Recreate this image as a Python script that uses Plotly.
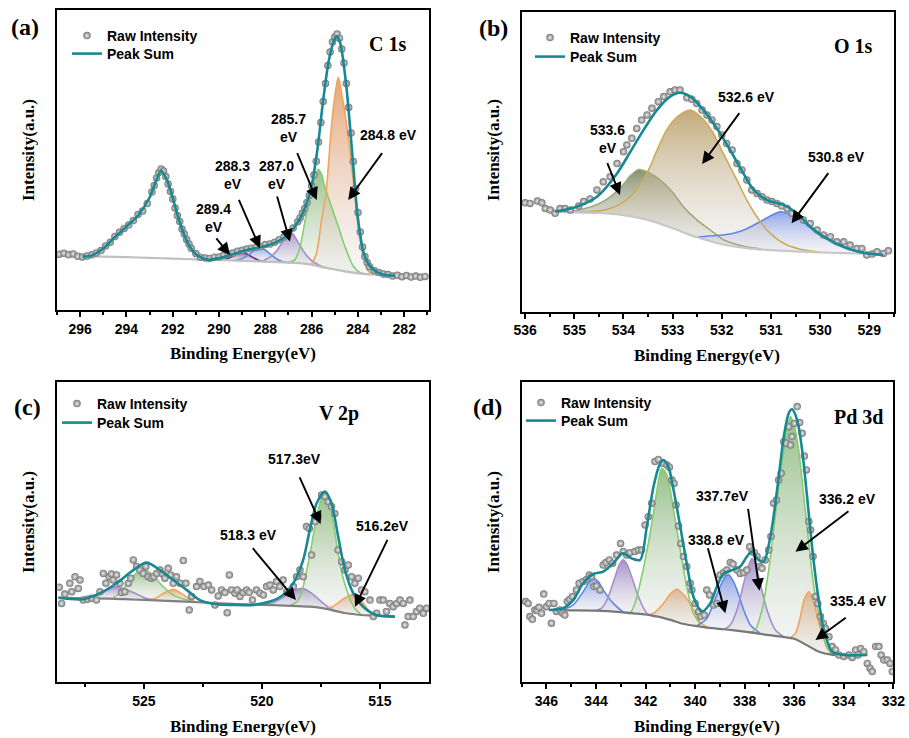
import plotly.graph_objects as go

# ================= (a) C 1s =================
a_raw_x = [296.9, 296.7, 296.5, 296.3, 296.1, 295.9, 295.7, 295.5, 295.3, 295.1, 294.9, 294.7, 294.5, 294.3, 294.1,
           293.9, 293.7, 293.5, 293.3, 293.1, 292.9, 292.8, 292.7, 292.6, 292.5, 292.4, 292.3, 292.2, 292.1, 292.0,
           291.9, 291.8, 291.7, 291.6, 291.5, 291.4, 291.3, 291.2, 291.0, 290.8, 290.6, 290.4, 290.2, 290.0, 289.8,
           289.6, 289.4, 289.2, 289.0, 288.8, 288.6, 288.4, 288.2, 288.0, 287.8, 287.6, 287.4, 287.2, 287.0, 286.8,
           286.6, 286.5, 286.4, 286.3, 286.2, 286.1, 286.0, 285.9, 285.8, 285.7, 285.6, 285.5, 285.4, 285.3, 285.2,
           285.1, 285.0, 284.9, 284.8, 284.7, 284.6, 284.5, 284.4, 284.3, 284.2, 284.1, 284.0, 283.9, 283.8, 283.7,
           283.6, 283.5, 283.3, 283.1, 282.9, 282.7, 282.5, 282.3, 282.1, 281.9, 281.7, 281.5, 281.3, 281.1]
a_raw_y = [18.6, 18.9, 18.4, 18.7, 17.9, 17.7, 18.0, 18.4, 19.0, 19.8, 21.3, 22.6, 24.5, 25.9, 27.2,
           28.3, 29.8, 31.8, 33.0, 35.5, 39.3, 41.5, 44.0, 45.8, 47.0, 46.3, 44.5, 42.0, 39.5, 37.0,
           34.0, 31.5, 29.5, 27.0, 25.3, 23.5, 22.0, 20.6, 18.8, 17.6, 17.3, 17.2, 17.6, 17.7, 18.2,
           18.7, 19.0, 19.6, 19.9, 20.3, 20.6, 20.9, 21.2, 21.8, 22.0, 22.6, 23.4, 24.3, 25.6, 27.3,
           29.4, 30.7, 32.3, 33.8, 35.8, 38.2, 41.3, 45.0, 49.6, 56.0, 62.5, 69.5, 75.5, 81.5, 86.0,
           89.3, 91.0, 92.0, 90.6, 87.0, 82.3, 75.5, 67.5, 59.0, 49.5, 40.5, 32.5, 26.0, 21.0, 17.8,
           15.8, 14.4, 13.2, 12.5, 12.0, 11.8, 11.3, 11.6, 11.1, 11.5, 11.0, 11.3, 10.9, 11.2]
a_sum_x = [295.9, 295.5, 295.0, 294.5, 294.0, 293.5, 293.0, 292.75, 292.5, 292.25, 292.0, 291.75, 291.5, 291.25,
           291.0, 290.5, 290.0, 289.5, 289.0, 288.5, 288.0, 287.5, 287.0, 286.75, 286.5, 286.25, 286.0, 285.75,
           285.5, 285.25, 285.0, 284.9, 284.75, 284.5, 284.25, 284.0, 283.75, 283.5, 283.0, 282.4]
a_sum_y = [17.8, 18.2, 20.5, 24.3, 27.8, 31.5, 37.5, 42.5, 46.4, 43.3, 37.3, 30.5, 25.0, 21.0,
           18.6, 16.8, 17.3, 18.4, 19.6, 20.5, 21.3, 22.7, 25.2, 27.6, 30.5, 34.8, 41.5, 53.5,
           70.0, 83.5, 90.5, 91.3, 88.5, 74.5, 52.5, 30.5, 19.0, 14.8, 12.0, 11.4]
a_base_x = [295.9, 295.0, 294.0, 293.0, 292.0, 291.0, 290.0, 289.0, 288.0, 287.0, 286.5, 286.0, 285.5, 285.0,
            284.5, 284.0, 283.5, 283.0, 282.4]
a_base_y = [18.0, 17.8, 17.6, 17.4, 17.1, 16.9, 16.7, 16.4, 16.1, 15.8, 15.6, 15.1, 14.2, 13.5,
            12.8, 12.2, 11.9, 11.8, 11.7]
a_p5_x = [290.0, 289.7, 289.4, 289.2, 289.0, 288.8, 288.6, 288.3, 288.0]
a_p5_y = [16.7, 17.0, 18.0, 18.8, 19.1, 18.7, 17.8, 16.6, 16.1]
a_p4_x = [289.3, 289.0, 288.75, 288.5, 288.23, 288.0, 287.75, 287.5, 287.2, 286.9]
a_p4_y = [16.5, 17.2, 18.3, 19.8, 21.0, 20.0, 18.4, 16.9, 16.0, 15.8]
a_p3_x = [288.2, 287.8, 287.5, 287.3, 287.1, 286.95, 286.8, 286.6, 286.4, 286.2, 286.0, 285.7, 285.4]
a_p3_y = [16.1, 17.6, 19.8, 22.2, 24.8, 26.1, 25.3, 22.8, 20.2, 18.0, 16.5, 15.0, 14.0]
a_p2_x = [287.0, 286.72, 286.5, 286.33, 286.17, 286.0, 285.85, 285.71, 285.57, 285.43, 285.14, 284.85, 284.56,
          284.2, 283.9, 283.6]
a_p2_y = [15.8, 16.8, 21.1, 27.8, 34.4, 41.1, 45.0, 46.9, 45.2, 41.1, 34.4, 27.8, 21.1, 14.6, 12.4, 12.0]
a_p1_x = [286.0, 285.79, 285.57, 285.38, 285.28, 285.18, 285.04, 284.85, 284.63, 284.42, 284.27, 284.13, 283.99,
          283.80, 283.6, 283.4]
a_p1_y = [15.2, 18.9, 30.0, 38.9, 47.8, 57.8, 68.9, 77.6, 68.9, 57.8, 47.8, 37.8, 27.8, 18.9, 13.5, 11.9]
a_labels = ["284.8 eV", "285.7<br>eV", "287.0<br>eV", "288.3<br>eV", "289.4<br>eV"]
a_label_x = [282.69, 286.98, 287.51, 289.42, 290.26]
a_label_y = [58.3, 60.7, 45.0, 45.0, 30.8]
a_arrow_tail_x = [282.91, 286.65, 287.51, 289.17, 290.17]
a_arrow_tail_y = [52.8, 52.8, 38.3, 37.2, 24.4]
a_arrow_head_x = [284.42, 285.78, 286.94, 288.23, 289.53]
a_arrow_head_y = [36.7, 36.7, 22.8, 20.6, 18.3]

# ================= (b) O 1s =================
b_raw_x = [536.0, 535.9, 535.75, 535.66, 535.59, 535.49, 535.39, 535.29, 535.19, 535.08, 534.91, 534.81, 534.68,
           534.54, 534.41, 534.27, 534.13, 534.0, 533.93, 533.83, 533.73, 533.63, 533.52, 533.42, 533.29, 533.18,
           533.05, 532.95, 532.85, 532.71, 532.61, 532.51, 532.40, 532.30, 532.20, 532.10, 532.0, 531.90, 531.79,
           531.69, 531.59, 531.49, 531.39, 531.28, 531.18, 531.08, 530.98, 530.88, 530.78, 530.67, 530.57, 530.47,
           530.34, 530.20, 530.06, 529.93, 529.79, 529.66, 529.52, 529.39, 529.25, 529.15, 529.05, 528.94, 528.84,
           528.71, 528.61]
b_raw_y = [36.3, 36.1, 36.9, 36.3, 34.4, 33.9, 32.8, 34.4, 34.4, 33.9, 35.2, 36.7, 37.6,
           40.6, 43.3, 45.0, 49.4, 53.3, 55.6, 57.8, 61.1, 63.9, 65.6, 67.8, 70.0, 71.7,
           73.3, 73.9, 73.9, 71.3, 70.8, 69.4, 67.2, 65.6, 63.9, 61.7, 58.9, 56.1, 53.9,
           49.4, 47.2, 43.9, 40.6, 39.4, 38.3, 37.2, 36.7, 36.1, 35.2, 34.4, 32.8, 31.7,
           30.6, 29.4, 27.2, 25.6, 25.0, 23.3, 23.3, 22.2, 21.1, 21.1, 18.9, 19.2, 20.0,
           19.4, 20.3]
b_sum_x = [535.39, 534.95, 534.54, 534.13, 533.86, 533.59, 533.32, 533.05, 532.85, 532.64, 532.37, 532.10,
           531.83, 531.56, 531.35, 531.08, 530.74, 530.47, 530.20, 529.86, 529.52, 529.18, 528.71]
b_sum_y = [33.3, 35.0, 38.3, 46.1, 53.3, 60.6, 67.2, 71.7, 73.0, 71.7, 67.2, 61.1,
           53.9, 46.1, 40.6, 37.2, 35.6, 32.8, 28.3, 24.4, 21.7, 19.8, 18.9]
b_base_x = [535.4, 535.0, 534.5, 534.0, 533.5, 533.0, 532.5, 532.0, 531.5, 531.0, 530.5, 530.0, 529.5, 529.0, 528.7]
b_base_y = [33.3, 33.1, 32.9, 32.2, 30.6, 27.8, 24.8, 22.5, 21.2, 20.5, 20.1, 19.8, 19.5, 19.3, 19.2]
b_p1_x = [535.4, 535.08, 534.8, 534.5, 534.27, 534.0, 533.85, 533.69, 533.5, 533.25, 533.0, 532.78, 532.5, 532.2,
          531.96, 531.6, 531.2]
b_p1_y = [33.3, 33.5, 34.3, 36.0, 38.3, 42.5, 45.5, 47.4, 46.5, 43.9, 39.8, 35.0, 30.5, 26.8, 23.9, 22.0, 20.9]
b_p2_x = [535.0, 534.5, 534.27, 534.0, 533.8, 533.6, 533.46, 533.3, 533.12, 532.9, 532.64, 532.4, 532.17, 532.0,
          531.83, 531.65, 531.49, 531.3, 531.08, 530.74, 530.4, 530.0]
b_p2_y = [33.2, 33.6, 34.4, 36.5, 39.4, 44.0, 48.3, 54.5, 60.6, 65.0, 67.2, 64.5, 59.4, 53.8,
          48.3, 42.5, 37.2, 32.0, 27.2, 22.8, 20.8, 19.9]
b_p3_x = [532.5, 532.1, 531.8, 531.62, 531.4, 531.22, 531.0, 530.81, 530.6, 530.4, 530.2, 530.06, 529.9, 529.72,
          529.39, 528.98, 528.7]
b_p3_y = [24.9, 25.4, 26.0, 26.8, 28.4, 30.0, 32.0, 33.3, 32.4, 30.6, 28.0, 26.1, 24.5, 22.8, 20.6, 19.5, 19.2]
b_labels = ["533.6<br>eV", "532.6 eV", "530.8 eV"]
b_label_x = [534.33, 531.49, 529.66]
b_label_y = [57.6, 71.7, 51.7]
b_arrow_tail_x = [534.34, 531.62, 529.81]
b_arrow_tail_y = [50.0, 66.7, 46.7]
b_arrow_head_x = [534.07, 532.40, 530.58]
b_arrow_head_y = [38.9, 49.2, 29.5]

# ================= (c) V 2p =================
c_raw_x = [528.59, 528.49, 528.35, 528.14, 528.06, 527.92, 527.78, 527.71, 527.57, 527.40, 527.22, 527.01, 526.86,
           526.72, 526.61, 526.47, 526.37, 526.30, 526.16, 526.02, 525.95, 525.81, 525.66, 525.56, 525.45, 525.31,
           525.17, 525.03, 524.92, 524.82, 524.68, 524.58, 524.46, 524.32, 524.21, 524.11, 523.97, 523.87, 523.76,
           523.62, 523.47, 523.33, 523.22, 523.08, 522.98, 522.77, 522.63, 522.46, 522.27, 522.13, 521.99, 521.85,
           521.71, 521.57, 521.47, 521.38, 521.29, 521.14, 521.05, 520.93, 520.79, 520.65, 520.54, 520.40, 520.23,
           520.08, 519.94, 519.80, 519.66, 519.52, 519.38, 519.24, 519.10, 518.95, 518.81, 518.67, 518.53, 518.39,
           518.25, 518.11, 517.99, 517.90, 517.75, 517.61, 517.47, 517.33, 517.19, 517.05, 516.91, 516.77, 516.62,
           516.48, 516.34, 516.20, 516.06, 515.92, 515.78, 515.64, 515.42, 515.28, 515.14, 515.00, 514.86, 514.72,
           514.58, 514.44, 514.29, 514.15, 514.01, 513.94, 513.80, 513.73, 513.59, 513.45, 513.31, 513.16, 513.02]
c_raw_y = [31.7, 26.3, 29.4, 33.0, 30.2, 35.2, 31.3, 34.1, 27.4, 27.7, 28.0, 27.4, 30.2,
           36.3, 33.0, 35.2, 36.1, 34.1, 35.8, 33.0, 29.9, 30.2, 33.0, 34.7, 40.8, 38.6,
           37.4, 36.3, 38.6, 35.2, 34.7, 35.2, 36.3, 37.4, 36.1, 34.7, 38.0, 35.8, 33.0,
           35.2, 33.0, 40.6, 33.0, 24.1, 28.6, 31.9, 33.6, 31.9, 32.4, 30.8, 25.8, 28.8,
           30.8, 29.9, 23.2, 35.8, 30.8, 29.7, 30.8, 28.6, 29.9, 30.8, 29.9, 27.4, 30.8,
           29.7, 29.1, 31.9, 32.4, 30.8, 33.6, 31.9, 34.1, 30.2, 29.7, 31.9, 35.2, 37.4,
           35.2, 51.9, 51.3, 42.4, 53.6, 55.2, 62.4, 61.9, 60.2, 58.6, 56.3, 44.1, 40.2,
           37.4, 39.1, 35.2, 33.0, 34.7, 30.8, 30.2, 27.4, 21.9, 23.0, 27.4, 27.4, 23.6,
           26.3, 25.2, 26.3, 27.4, 26.3, 19.1, 21.9, 27.4, 21.9, 23.6, 24.7, 23.0, 24.7]
c_sum_x = [528.63, 527.57, 526.86, 526.16, 525.45, 524.89, 524.32, 523.76, 523.19, 522.63, 521.92, 521.21, 520.37,
           519.66, 519.10, 518.67, 518.25, 517.97, 517.68, 517.33, 517.05, 516.77, 516.48, 516.13, 515.71, 515.14,
           514.36]
c_sum_y = [28.2, 27.7, 29.7, 33.0, 37.4, 39.9, 37.4, 34.1, 30.8, 27.4, 26.0, 25.8, 25.8,
           26.9, 29.1, 33.0, 40.8, 50.8, 59.7, 63.6, 59.7, 48.6, 37.4, 29.7, 25.2, 22.4, 21.9]
c_base_x = [528.6, 527.5, 526.5, 525.5, 524.5, 523.5, 522.5, 521.5, 520.5, 519.5, 518.5, 518.0, 517.5, 517.0,
            516.5, 516.0, 515.5, 515.0, 514.4]
c_base_y = [28.2, 28.0, 27.9, 27.6, 27.3, 27.0, 26.6, 26.2, 25.9, 25.7, 25.4, 25.2, 24.8, 24.0,
            23.1, 22.6, 22.3, 22.1, 21.9]
c_p1_x = [527.5, 527.0, 526.6, 526.2, 525.8, 525.4, 525.0, 524.6]
c_p1_y = [28.0, 28.9, 30.5, 31.9, 31.0, 29.8, 28.3, 27.4]
c_p2_x = [526.3, 526.0, 525.7, 525.4, 524.96, 524.6, 524.2, 523.8, 523.4, 523.0]
c_p2_y = [28.2, 30.0, 33.0, 35.8, 37.7, 35.5, 32.0, 29.3, 27.9, 27.1]
c_p3_x = [524.8, 524.5, 524.2, 523.76, 523.4, 523.1, 522.8]
c_p3_y = [27.4, 28.0, 29.5, 31.0, 29.5, 27.8, 26.8]
c_p4_x = [520.0, 519.5, 519.0, 518.7, 518.32, 518.0, 517.7, 517.4, 517.1, 516.8]
c_p4_y = [26.0, 26.6, 28.8, 30.3, 31.3, 30.3, 28.4, 26.3, 24.6, 23.6]
c_p5_x = [518.8, 518.5, 518.3, 518.1, 517.9, 517.7, 517.5, 517.33, 517.15, 517.0, 516.8, 516.6, 516.4, 516.1, 515.8]
c_p5_y = [25.6, 27.0, 30.5, 37.4, 45.5, 54.5, 60.7, 63.0, 60.0, 54.5, 44.5, 36.0, 30.6, 25.0, 22.6]
c_p6_x = [517.3, 517.0, 516.8, 516.5, 516.13, 515.9, 515.7, 515.5, 515.2, 515.0]
c_p6_y = [24.6, 25.2, 26.3, 28.0, 29.4, 28.3, 26.3, 24.2, 22.3, 22.1]
c_labels = ["517.3eV", "518.3 eV", "516.2eV"]
c_label_x = [518.60, 520.58, 514.89]
c_label_y = [74.3, 49.1, 52.2]
c_arrow_tail_x = [518.43, 520.44, 514.65]
c_arrow_tail_y = [68.8, 45.2, 48.0]
c_arrow_head_x = [517.51, 518.56, 516.06]
c_arrow_head_y = [52.8, 27.4, 25.2]

# ================= (d) Pd 3d =================
d_raw_x = [346.84, 346.74, 346.67, 346.57, 346.47, 346.38, 346.30, 346.20, 346.11, 346.00, 345.89, 345.80, 345.70,
           345.60, 345.46, 345.35, 345.26, 345.16, 345.06, 344.95, 344.79, 344.68, 344.52, 344.38, 344.27, 344.18,
           344.08, 343.98, 343.84, 343.71, 343.60, 343.46, 343.33, 343.17, 343.01, 342.90, 342.76, 342.63, 342.43,
           342.29, 342.16, 342.02, 341.89, 341.75, 341.62, 341.48, 341.31, 341.14, 341.04, 340.94, 340.85, 340.77,
           340.67, 340.58, 340.47, 340.34, 340.20, 340.13, 340.00, 339.86, 339.77, 339.63, 339.53, 339.42, 339.26,
           339.12, 338.99, 338.85, 338.72, 338.58, 338.47, 338.31, 338.18, 338.04, 337.91, 337.80, 337.70, 337.61,
           337.50, 337.39, 337.30, 337.17, 337.03, 336.94, 336.83, 336.72, 336.63, 336.53, 336.42, 336.32, 336.22,
           336.15, 336.09, 335.99, 335.88, 335.78, 335.68, 335.59, 335.51, 335.41, 335.34, 335.24, 335.14, 335.05,
           334.94, 334.83, 334.74, 334.60, 334.47, 334.33, 334.20, 334.00, 333.79, 333.66, 333.52, 333.43, 333.32,
           333.19, 333.05, 332.94, 332.85, 332.71, 332.58, 332.49, 332.38, 332.24, 332.13, 332.04]
d_raw_y = [26.9, 26.3, 21.9, 21.0, 24.1, 23.9, 25.0, 23.0, 29.4, 25.2, 26.3, 19.7, 26.3,
           23.6, 24.1, 23.0, 22.4, 26.9, 27.7, 28.6, 30.8, 33.0, 33.6, 34.3, 35.8, 35.2,
           31.9, 32.1, 30.8, 39.1, 39.9, 40.8, 39.7, 42.4, 46.3, 43.6, 42.4, 43.2, 43.6,
           44.1, 44.1, 52.4, 55.2, 59.7, 73.6, 74.3, 73.0, 72.4, 71.7, 67.4, 66.3, 59.1,
           52.1, 46.3, 41.9, 38.6, 33.0, 30.8, 26.3, 23.6, 21.9, 22.4, 30.8, 29.1, 25.8,
           26.3, 35.8, 36.6, 37.4, 39.9, 39.4, 37.4, 36.3, 36.6, 37.4, 45.2, 43.6, 43.2,
           41.9, 38.6, 38.0, 40.8, 44.1, 48.6, 59.7, 60.8, 67.4, 69.7, 80.2, 79.7, 85.2,
           79.1, 81.9, 86.3, 91.9, 86.6, 83.0, 75.4, 70.8, 53.6, 50.8, 41.9, 28.6, 26.3,
           21.9, 19.7, 18.0, 15.2, 11.9, 10.8, 9.1, 8.6, 9.1, 8.3, 10.8, 9.1, 11.3,
           10.2, 6.3, 4.7, 3.6, 11.9, 11.9, 9.1, 7.4, 7.4, 6.3, 3.6]
d_sum_x = [345.89, 345.33, 344.92, 344.52, 344.11, 343.71, 343.30, 342.92, 342.56, 342.22, 341.95, 341.68, 341.44,
           341.28, 341.08, 340.87, 340.60, 340.34, 340.07, 339.73, 339.39, 339.12, 338.85, 338.51, 338.18, 337.91,
           337.70, 337.44, 337.23, 336.96, 336.69, 336.42, 336.22, 336.09, 335.88, 335.68, 335.48, 335.28, 335.07,
           334.80, 334.47, 334.00, 333.05]
d_sum_y = [24.1, 24.7, 27.4, 33.0, 36.1, 36.9, 39.7, 43.0, 41.3, 40.8, 51.9, 65.2, 72.4,
           74.1, 71.9, 64.1, 51.9, 39.7, 28.6, 23.6, 26.3, 31.9, 36.3, 37.4, 38.6, 41.9,
           43.6, 40.8, 40.2, 48.6, 64.1, 81.9, 89.7, 91.0, 87.4, 77.4, 61.9, 45.2, 30.8,
           17.4, 10.2, 9.1, 9.1]
d_base_x = [345.9, 345.0, 344.0, 343.0, 342.5, 342.0, 341.5, 341.0, 340.5, 340.0, 339.5, 339.0, 338.5, 338.0,
            337.5, 337.0, 336.5, 336.0, 335.5, 335.0, 334.5, 334.0, 333.05]
d_base_y = [24.1, 24.0, 23.9, 23.4, 23.0, 22.6, 21.9, 20.8, 19.5, 18.8, 18.2, 17.8, 17.4, 16.9,
            16.3, 15.7, 15.2, 14.5, 12.4, 10.2, 9.2, 9.1, 9.1]
d_p1_x = [345.5, 345.33, 344.92, 344.52, 344.3, 344.11, 343.9, 343.71, 343.3, 342.83, 342.5]
d_p1_y = [24.1, 24.3, 25.8, 30.2, 33.2, 34.7, 33.5, 30.8, 26.3, 23.2, 23.0]
d_p2_x = [344.0, 343.77, 343.5, 343.23, 343.05, 342.9, 342.75, 342.56, 342.29, 341.95, 341.6]
d_p2_y = [23.9, 24.7, 28.6, 35.2, 39.3, 40.8, 39.3, 35.2, 28.6, 23.0, 21.8]
d_p3_x = [342.8, 342.63, 342.43, 342.16, 341.89, 341.62, 341.45, 341.35, 341.2, 341.08, 340.87, 340.6, 340.34,
          340.07, 339.8]
d_p3_y = [23.1, 23.0, 26.3, 35.2, 46.3, 59.7, 68.5, 71.3, 70.0, 67.4, 57.4, 44.1, 31.9, 23.0, 19.4]
d_p4_x = [341.9, 341.68, 341.28, 341.0, 340.74, 340.5, 340.2, 339.8, 339.5]
d_p4_y = [22.4, 23.0, 26.3, 29.5, 31.0, 29.5, 26.3, 20.2, 18.3]
d_p5_x = [339.9, 339.53, 339.26, 338.99, 338.8, 338.65, 338.5, 338.31, 338.04, 337.77, 337.4]
d_p5_y = [19.0, 21.3, 26.3, 31.9, 35.0, 35.8, 34.3, 30.8, 24.1, 19.1, 16.5]
d_p6_x = [338.8, 338.58, 338.31, 338.04, 337.85, 337.7, 337.55, 337.37, 337.1, 336.76, 336.45]
d_p6_y = [17.8, 19.1, 24.1, 33.0, 38.8, 41.3, 38.8, 33.0, 24.1, 17.4, 15.3]
d_p7_x = [337.8, 337.57, 337.3, 337.03, 336.83, 336.63, 336.42, 336.3, 336.15, 336.0, 335.82, 335.61, 335.41,
          335.21, 334.94, 334.67, 334.4]
d_p7_y = [16.4, 17.6, 24.1, 37.4, 50.8, 65.2, 77.4, 84.0, 88.6, 85.5, 77.4, 61.9, 46.3, 31.9, 19.7, 11.3, 9.2]
d_p8_x = [336.2, 335.95, 335.75, 335.6, 335.41, 335.25, 335.07, 334.9, 334.7, 334.5]
d_p8_y = [14.7, 16.3, 21.9, 27.5, 30.2, 27.8, 21.9, 16.8, 12.3, 9.3]
d_labels = ["337.7eV", "338.8 eV", "336.2 eV", "335.4 eV"]
d_label_x = [338.88, 339.12, 333.86, 333.39]
d_label_y = [62.1, 47.4, 61.0, 27.2]
d_arrow_tail_x = [337.87, 339.50, 333.75, 333.86]
d_arrow_tail_y = [58.3, 45.2, 57.4, 21.9]
d_arrow_head_x = [337.40, 338.78, 335.95, 335.14]
d_arrow_head_y = [30.5, 23.0, 43.5, 14.1]

panel_titles = ["C 1s", "O 1s", "V 2p", "Pd 3d"]
panel_tags = ["(a)", "(b)", "(c)", "(d)"]
x_title = "Binding Energy(eV)"
y_title = "Intensity(a.u.)"
legend_names = ["Raw Intensity", "Peak Sum"]

# ================= styles =================
SANS = "Liberation Sans, Arial, sans-serif"
SERIF = "Liberation Serif, Times New Roman, serif"
TEAL = "rgb(24,136,146)"

ORANGE = ("rgb(242,165,90)", "rgba(228,140,80,0.78)")
GREEN = ("rgb(132,205,112)", "rgba(110,168,90,0.72)")
LAV = ("rgb(165,142,205)", "rgba(128,104,178,0.72)")
BLUE = ("rgb(95,135,232)", "rgba(98,128,226,0.72)")
DPURP = ("rgb(122,42,140)", "rgba(112,40,132,0.78)")
OLIVE = ("rgb(160,168,125)", "rgba(102,116,72,0.78)")
GOLD = ("rgb(205,172,85)", "rgba(178,146,86,0.78)")
BOTTOM = "rgba(226,226,226,0.30)"

panels = [
    dict(raw=(a_raw_x, a_raw_y), sm=(a_sum_x, a_sum_y), base=(a_base_x, a_base_y), base_color="rgb(192,192,192)",
         comps=[(a_p5_x, a_p5_y, DPURP), (a_p4_x, a_p4_y, BLUE), (a_p3_x, a_p3_y, LAV), (a_p2_x, a_p2_y, GREEN),
                (a_p1_x, a_p1_y, ORANGE)],
         labels=(a_labels, a_label_x, a_label_y),
         arrows=(a_arrow_tail_x, a_arrow_tail_y, a_arrow_head_x, a_arrow_head_y),
         dom_x=[57 / 909, 429 / 909], dom_y=[1 - 310 / 738, 1 - 10 / 738],
         rng=[297.0, 280.93], dtick=2, tick0=282, minor=1),
    dict(raw=(b_raw_x, b_raw_y), sm=(b_sum_x, b_sum_y), base=(b_base_x, b_base_y), base_color="rgb(200,200,200)",
         comps=[(b_p1_x, b_p1_y, OLIVE), (b_p3_x, b_p3_y, BLUE), (b_p2_x, b_p2_y, GOLD)],
         labels=(b_labels, b_label_x, b_label_y),
         arrows=(b_arrow_tail_x, b_arrow_tail_y, b_arrow_head_x, b_arrow_head_y),
         dom_x=[521.7 / 909, 894.3 / 909], dom_y=[1 - 311.7 / 738, 1 - 11.7 / 738],
         rng=[536.07, 528.49], dtick=1, tick0=529, minor=0.5),
    dict(raw=(c_raw_x, c_raw_y), sm=(c_sum_x, c_sum_y), base=(c_base_x, c_base_y), base_color="rgb(128,128,128)",
         comps=[(c_p1_x, c_p1_y, LAV), (c_p3_x, c_p3_y, ORANGE), (c_p2_x, c_p2_y, GREEN), (c_p4_x, c_p4_y, LAV),
                (c_p6_x, c_p6_y, ORANGE), (c_p5_x, c_p5_y, GREEN)],
         labels=(c_labels, c_label_x, c_label_y),
         arrows=(c_arrow_tail_x, c_arrow_tail_y, c_arrow_head_x, c_arrow_head_y),
         dom_x=[57.3 / 909, 429 / 909], dom_y=[1 - 682.3 / 738, 1 - 382.3 / 738],
         rng=[528.67, 512.92], dtick=5, tick0=515, minor=2.5),
    dict(raw=(d_raw_x, d_raw_y), sm=(d_sum_x, d_sum_y), base=(d_base_x, d_base_y), base_color="rgb(120,120,120)",
         comps=[(d_p1_x, d_p1_y, BLUE), (d_p2_x, d_p2_y, LAV), (d_p4_x, d_p4_y, ORANGE), (d_p3_x, d_p3_y, GREEN),
                (d_p5_x, d_p5_y, BLUE), (d_p6_x, d_p6_y, LAV), (d_p8_x, d_p8_y, ORANGE), (d_p7_x, d_p7_y, GREEN)],
         labels=(d_labels, d_label_x, d_label_y),
         arrows=(d_arrow_tail_x, d_arrow_tail_y, d_arrow_head_x, d_arrow_head_y),
         dom_x=[521.7 / 909, 893.3 / 909], dom_y=[1 - 682.3 / 738, 1 - 382.3 / 738],
         rng=[347.0, 332.0], dtick=2, tick0=332, minor=1),
]

# paper positions (px) of decorations
tag_pos = [(25, 27), (493, 28), (27, 407), (487, 407)]
title_pos = [(387, 44), (853, 46), (339, 413), (858, 417)]
xtitle_pos = [(243, 353), (707, 355), (243, 726), (707, 726)]
ytitle_pos = [(28, 150), (493, 150), (28, 522), (493, 522)]
# (left x, top y) of the raw-intensity and peak-sum legend entries
legend_pos = [((67, 20), (67, 38)), ((530, 22), (530, 41)), ((57, 388), (57, 407)), ((521, 387), (521, 405))]

W, H = 909, 738
fig = go.Figure()
layout = dict(width=W, height=H, margin=dict(l=0, r=0, t=0, b=0, autoexpand=False), paper_bgcolor="white",
              plot_bgcolor="white", showlegend=True)


def polygon(cx, cy, bx, by):
    lo, hi = min(cx), max(cx)
    inner = sorted([(x, y) for x, y in zip(bx, by) if lo < x < hi])
    return list(cx) + [p[0] for p in inner], list(cy) + [p[1] for p in inner]


annotations = []
for i, p in enumerate(panels):
    sfx = "" if i == 0 else str(i + 1)
    xa, ya = "x" + sfx, "y" + sfx
    leg_raw = "legend" + ("" if i == 0 else str(2 * i + 1))
    leg_sum = "legend" + str(2 * i + 2)
    bx, by = p["base"]
    for cx, cy, (lc, fc) in p["comps"]:
        px, py = polygon(cx, cy, bx, by)
        fig.add_trace(go.Scatter(x=px, y=py, xaxis=xa, yaxis=ya, mode="lines", fill="toself",
                                 line=dict(width=0, shape="spline", smoothing=0.8),
                                 fillgradient=dict(type="vertical", colorscale=[[0, BOTTOM], [1, fc]],
                                                   start=min(py), stop=max(py)),
                                 showlegend=False, hoverinfo="skip"))
    for cx, cy, (lc, fc) in p["comps"]:
        fig.add_trace(go.Scatter(x=cx, y=cy, xaxis=xa, yaxis=ya, mode="lines",
                                 line=dict(color=lc, width=1.6, shape="spline", smoothing=0.8),
                                 showlegend=False, hoverinfo="skip"))
    fig.add_trace(go.Scatter(x=bx, y=by, xaxis=xa, yaxis=ya, mode="lines",
                             line=dict(color=p["base_color"], width=2.2, shape="spline", smoothing=0.8),
                             showlegend=False, hoverinfo="skip"))
    rx, ry = p["raw"]
    fig.add_trace(go.Scatter(x=rx, y=ry, xaxis=xa, yaxis=ya, mode="markers", name=legend_names[0],
                             legend=leg_raw,
                             marker=dict(size=7.5, color="rgb(118,118,118)",
                                         gradient=dict(type="radial", color="rgb(238,238,238)"),
                                         line=dict(width=0))))
    sx, sy = p["sm"]
    fig.add_trace(go.Scatter(x=sx, y=sy, xaxis=xa, yaxis=ya, mode="lines", name=legend_names[1], legend=leg_sum,
                             line=dict(color=TEAL, width=2.6, shape="spline", smoothing=0.8)))

    layout["xaxis" + sfx] = dict(domain=p["dom_x"], range=p["rng"], anchor=ya, showline=True, mirror=True,
                                 linecolor="black", linewidth=1.7, ticks="outside", ticklen=5, tickwidth=1.5,
                                 tickcolor="black", dtick=p["dtick"], tick0=p["tick0"], showgrid=False,
                                 zeroline=False, automargin=False,
                                 tickfont=dict(family=SANS, size=14, color="black", weight="bold"),
                                 minor=dict(dtick=p["minor"], ticks="outside", ticklen=3, tickwidth=1.5,
                                            tickcolor="black", showgrid=False))
    layout["yaxis" + sfx] = dict(domain=p["dom_y"], range=[0, 100], anchor=xa, showline=True, mirror=True,
                                 linecolor="black", linewidth=1.7, ticks="", showticklabels=False,
                                 showgrid=False, zeroline=False, automargin=False)
    for leg, (lx, ly) in zip([leg_raw, leg_sum], legend_pos[i]):
        layout[leg] = dict(x=lx / W, y=1 - ly / H, xanchor="left", yanchor="top", bgcolor="rgba(0,0,0,0)",
                           borderwidth=0, itemwidth=30,
                           font=dict(family=SANS, size=14, color="black", weight="bold"))

    texts, lxs, lys = p["labels"]
    for t, x, y in zip(texts, lxs, lys):
        annotations.append(dict(x=x, y=y, xref=xa, yref=ya, text="<b>" + t + "</b>", showarrow=False,
                                xanchor="center", yanchor="middle",
                                align="center", font=dict(family=SANS, size=14, color="black")))
    tx, ty, hx, hy = p["arrows"]
    for a1, a2, h1, h2 in zip(tx, ty, hx, hy):
        annotations.append(dict(x=h1, y=h2, ax=a1, ay=a2, xref=xa, yref=ya, axref=xa, ayref=ya, text="",
                                showarrow=True, arrowhead=2, arrowsize=1.3, arrowwidth=1.9,
                                arrowcolor="black", standoff=0))

    deco = [(tag_pos[i], panel_tags[i], SERIF, 24, 0), (title_pos[i], panel_titles[i], SERIF, 20, 0),
            (xtitle_pos[i], x_title, SERIF, 17, 0), (ytitle_pos[i], y_title, SERIF, 17, -90)]
    for (px_, py_), t, fam, sz, ang in deco:
        annotations.append(dict(x=px_ / W, y=1 - py_ / H, xref="paper", yref="paper", text="<b>" + t + "</b>",
                                xanchor="center", yanchor="middle", showarrow=False, textangle=ang,
                                font=dict(family=fam, size=sz, color="black")))

layout["annotations"] = annotations
fig.update_layout(**layout)
fig.write_html("out.html", config={"displayModeBar": False},
               post_script="document.body.style.margin='0px';")
